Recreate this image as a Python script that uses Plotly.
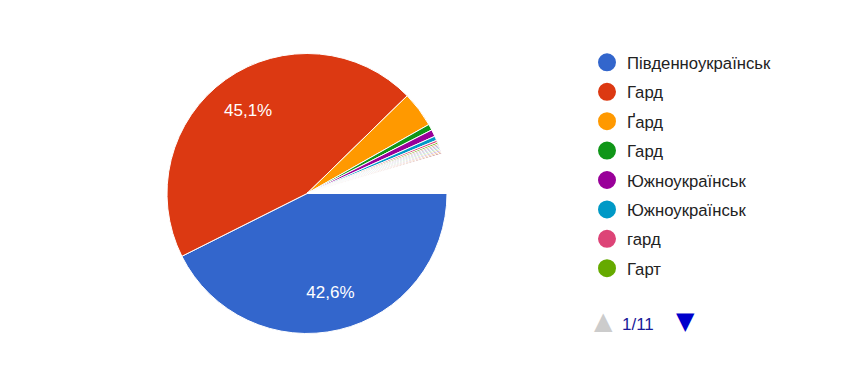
import plotly.graph_objects as go

# ---- data (percent of responses) ----
slice_labels = ["Південноукраїнськ", "Гард", "Ґард", "Гард", "Южноукраїнськ",
                "Южноукраїнськ", "гард", "Гарт",
                "інше 1", "інше 2", "інше 3", "інше 4", "інше 5", "інше 6", "інше 7", "інше 8",
                "інші"]
slice_values = [42.6, 45.1, 4.1, 0.7, 0.8, 0.5, 0.25, 0.2,
                0.15, 0.15, 0.15, 0.15, 0.15, 0.15, 0.15, 0.15,
                4.55]
slice_colors = ["#3366cc", "#dc3912", "#ff9900", "#109618", "#990099", "#0099c6",
                "#dd4477", "#66aa00", "#b82e2e", "#316395", "#994499", "#22aa99",
                "#aaaa11", "#6633cc", "#e67300", "#8b0707", "#ffffff"]
shown_text = [True, True] + [False] * 15

legend_labels = slice_labels[:8]
legend_colors = slice_colors[:8]
page_text = "1/11"

FONT = "Liberation Sans, Arial, sans-serif"

CX, CY, R = 299, 185.5, 140  # pie centre / radius in px
dom = dict(x=[(CX - R) / 853, (CX + R) / 853],
           y=[(366 - CY - R) / 366, (366 - CY + R) / 366])
ids = [f"{i}:{l}" for i, l in enumerate(slice_labels)]

fig = go.Figure()
fig.add_trace(go.Pie(
    labels=ids, values=slice_values, sort=False, direction="clockwise", rotation=90,
    marker=dict(colors=slice_colors, line=dict(color="white", width=1)),
    textinfo="none", hoverinfo="percent", showlegend=False, domain=dom,
))
# transparent ring on top carrying the percentage labels (puts them at ~0.72 r)
fig.add_trace(go.Pie(
    labels=ids, values=slice_values, sort=False, direction="clockwise", rotation=90,
    hole=0.45,
    marker=dict(colors=["rgba(0,0,0,0)"] * len(slice_values), line=dict(width=0)),
    texttemplate=["%{percent:.1%}" if s else "" for s in shown_text],
    textposition="inside", insidetextorientation="horizontal",
    insidetextfont=dict(color="white", size=17, family=FONT),
    hoverinfo="skip", showlegend=False, domain=dom,
))

for i, (lab, col) in enumerate(zip(legend_labels, legend_colors)):
    fig.add_trace(go.Scatter(
        x=[None], y=[None], mode="markers", name=lab, legendgroup=f"g{i}",
        marker=dict(size=16, color=col, symbol="circle", line=dict(color=col, width=2)),
        showlegend=True,
    ))

fig.update_layout(
    width=853, height=366,
    margin=dict(l=0, r=0, t=0, b=0),
    paper_bgcolor="white", plot_bgcolor="white",
    separators=", ",
    xaxis=dict(visible=False), yaxis=dict(visible=False),
    legend=dict(
        x=579 / 853, xanchor="left", y=1 - 37 / 366, yanchor="top",
        font=dict(family=FONT, size=16.7, color="#222222"),
        tracegroupgap=4.7, itemclick=False, itemdoubleclick=False,
        bgcolor="rgba(0,0,0,0)",
    ),
    annotations=[
        dict(x=606.5 / 853, y=1 - 329 / 366, xref="paper", yref="paper",
             text="▲", showarrow=False, font=dict(size=24, color="#cccccc", family="DejaVu Sans")),
        dict(x=648 / 853, y=1 - 328 / 366, xref="paper", yref="paper",
             text=page_text, showarrow=False, font=dict(size=17, color="#1a1a99", family=FONT)),
        dict(x=689 / 853, y=1 - 329 / 366, xref="paper", yref="paper",
             text="▼", showarrow=False, font=dict(size=24, color="#0000cc", family="DejaVu Sans")),
    ],
)

fig.write_html("out.html")
